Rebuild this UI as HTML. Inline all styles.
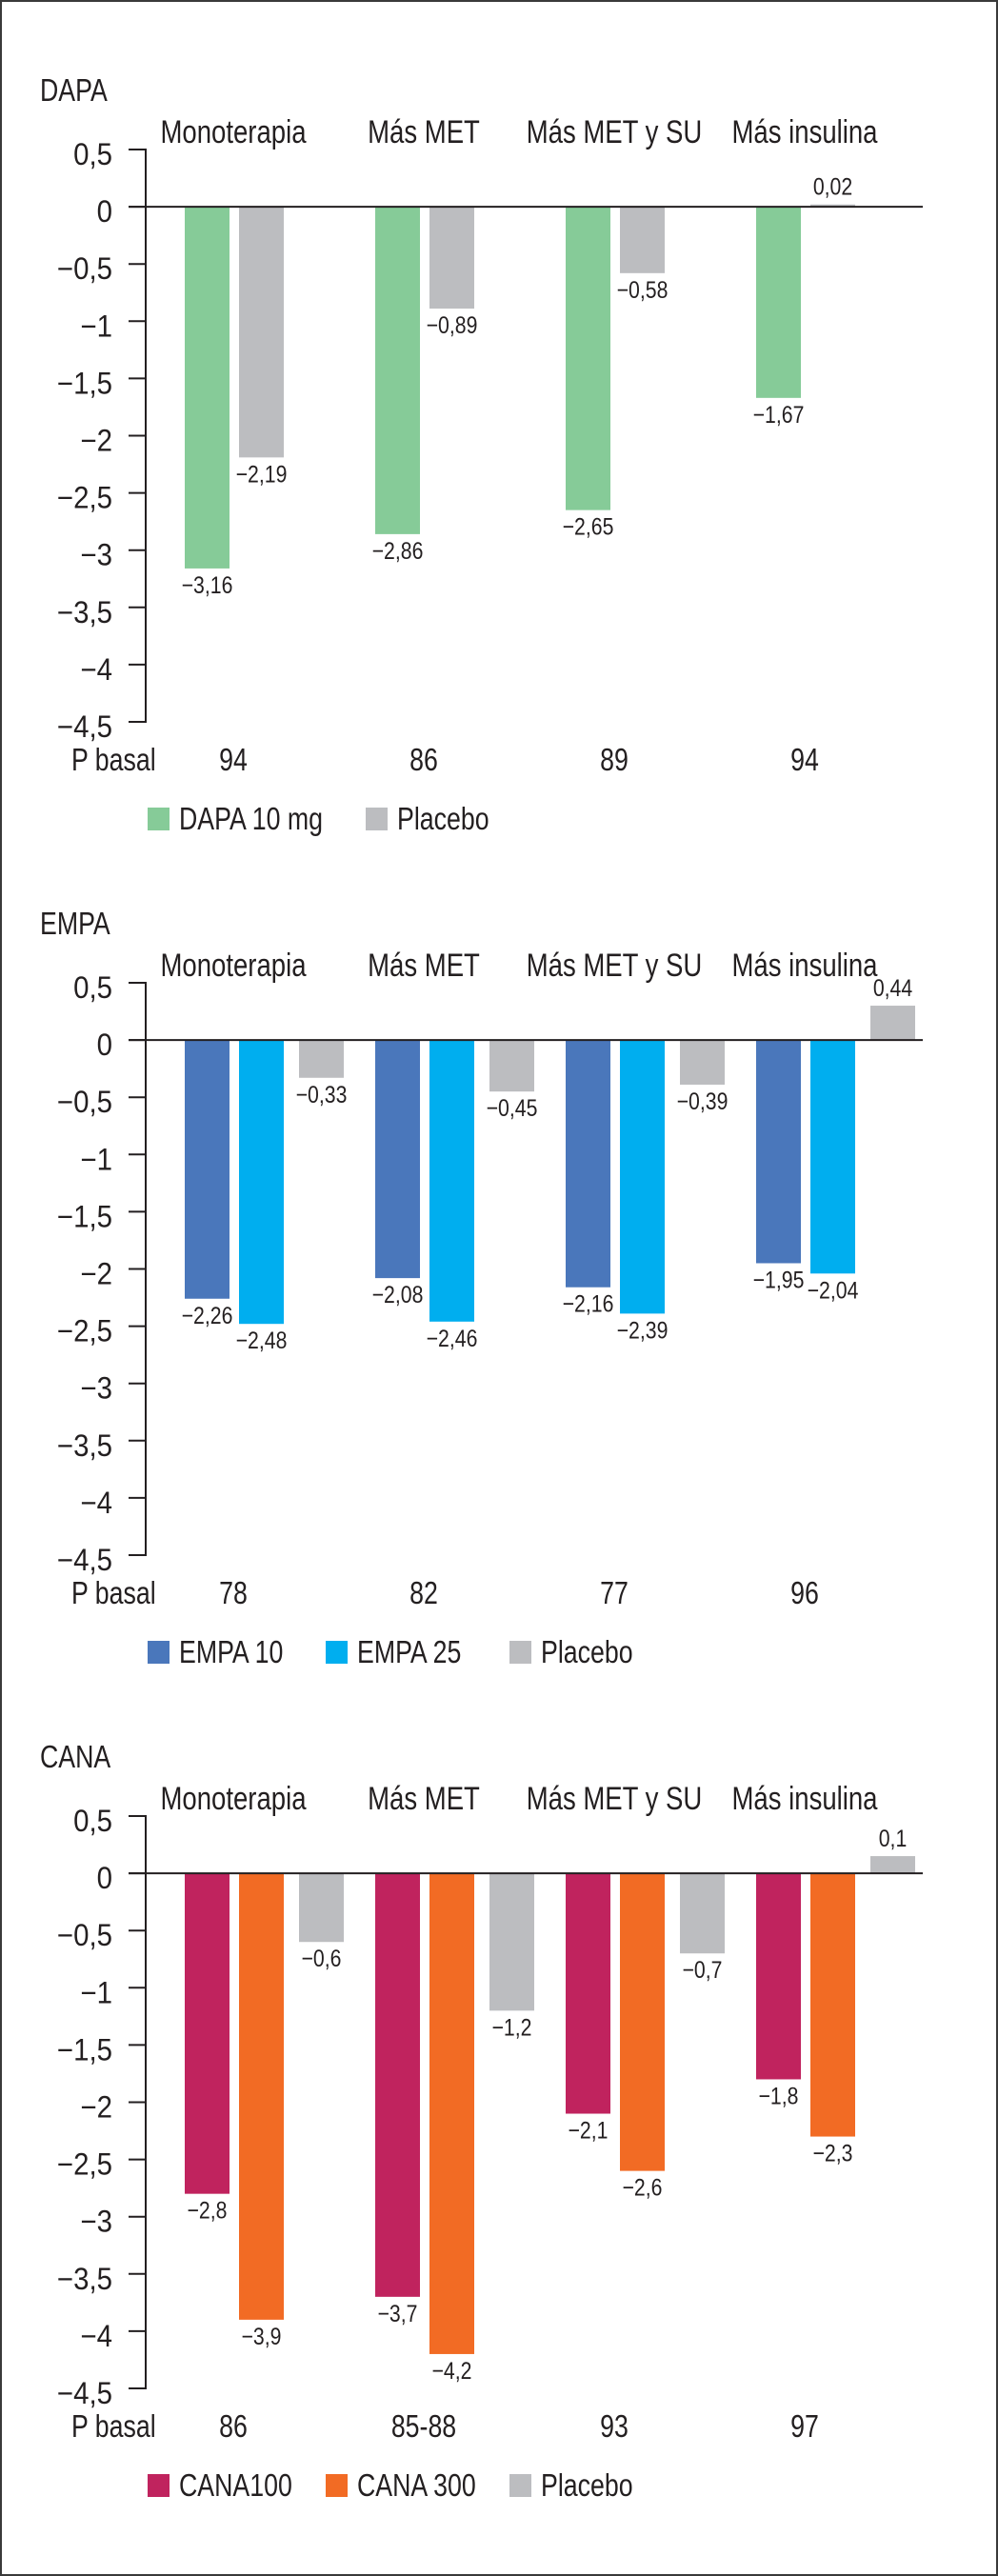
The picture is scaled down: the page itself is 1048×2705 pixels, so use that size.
<!DOCTYPE html>
<html><head><meta charset="utf-8">
<style>
html,body{margin:0;padding:0;background:#fff;}
body{width:1048px;height:2705px;position:relative;overflow:hidden;}
#frame{position:absolute;left:0;top:0;width:1044px;height:2701px;border:2px solid #3a3a3a;}
svg{position:absolute;left:0;top:0;}
text{font-family:"Liberation Sans",sans-serif;fill:#231f20;}
</style></head>
<body>
<div id="frame"></div>
<svg id="chart" width="1048" height="2705"></svg>
<script>
const categories = ["Monoterapia","Más MET","Más MET y SU","Más insulina"];
const yTicks = [0.5,0,-0.5,-1,-1.5,-2,-2.5,-3,-3.5,-4,-4.5];
const yTickLabels = ["0,5","0","−0,5","−1","−1,5","−2","−2,5","−3","−3,5","−4","−4,5"];

const dapaSeriesNames = ["DAPA 10 mg","Placebo"];
const dapa10 = [-3.16,-2.86,-2.65,-1.67];
const dapaPlacebo = [-2.19,-0.89,-0.58,0.02];
const dapaValueLabels = [["−3,16","−2,86","−2,65","−1,67"],["−2,19","−0,89","−0,58","0,02"]];
const dapaBasal = ["94","86","89","94"];

const empaSeriesNames = ["EMPA 10","EMPA 25","Placebo"];
const empa10 = [-2.26,-2.08,-2.16,-1.95];
const empa25 = [-2.48,-2.46,-2.39,-2.04];
const empaPlacebo = [-0.33,-0.45,-0.39,0.30];
const empaValueLabels = [["−2,26","−2,08","−2,16","−1,95"],["−2,48","−2,46","−2,39","−2,04"],["−0,33","−0,45","−0,39","0,44"]];
const empaBasal = ["78","82","77","96"];

const canaSeriesNames = ["CANA100","CANA 300","Placebo"];
const cana100 = [-2.8,-3.7,-2.1,-1.8];
const cana300 = [-3.9,-4.2,-2.6,-2.3];
const canaPlacebo = [-0.6,-1.2,-0.7,0.15];
const canaValueLabels = [["−2,8","−3,7","−2,1","−1,8"],["−3,9","−4,2","−2,6","−2,3"],["−0,6","−1,2","−0,7","0,1"]];
const canaBasal = ["86","85-88","93","97"];

const NS = "http://www.w3.org/2000/svg";
const svg = document.getElementById('chart');
function mk(tag, attrs, parent){
  const e = document.createElementNS(NS, tag);
  for (const k in attrs) e.setAttribute(k, attrs[k]);
  (parent||svg).appendChild(e);
  return e;
}
function txt(parent, s, x, y, size, anchor, sx){
  const t = mk('text', {transform:`translate(${x},${y}) scale(${sx||0.81},1)`, 'font-size':size, 'text-anchor':anchor||'start'}, parent);
  t.textContent = s;
  return t;
}

function panel(name, off, title, seriesNames, series, labels, colors, basal, legendX){
  const g = mk('g', {});
  
  
  const top = 157 + off, step = 60.1;
  const y = v => top + (0.5 - v) / 0.5 * step;
  const axisX = 153;
  const t = txt(g, title, 42, 106 + off, 33, 'start', 0.81);
  
  
  categories.forEach((c, i) => {
    const ct = txt(g, c, 245 + 200*i, 150 + off, 34, 'middle', 0.81);
    
    
  });
  const ax = mk('line', {x1:axisX, y1:y(0.5)-1, x2:axisX, y2:y(-4.5)+1, stroke:'#231f20','stroke-width':2}, g);
  
  
  yTicks.forEach((v, i) => {
    const tk = mk('line', {x1:135, y1:y(v), x2:axisX, y2:y(v), stroke:'#231f20','stroke-width':2}, g);
    
    
    const tl = txt(g, yTickLabels[i], 118, y(v) + 16, 32, 'end', 0.92);
    
    
  });
  const offs = [194, 251, 314];
  series.forEach((arr, s) => {
    arr.forEach((v, i) => {
      const x = offs[s] + 200*i;
      const y0 = y(0), y1 = y(v);
      const r = mk('rect', {x:x, y:Math.min(y0,y1), width:47, height:Math.abs(y1-y0), fill:colors[s]}, g);
      
      
      const ly = v >= 0 ? y1 - 10 : y1 + 26;
      const vl = txt(g, labels[s][i], x + 23.5, ly, 25, 'middle', 0.85);
      
      
    });
  });
  const zl = mk('line', {x1:135, y1:y(0), x2:969, y2:y(0), stroke:'#231f20','stroke-width':2}, g);
  
  
  const pb = txt(g, 'P basal', 75, 809 + off, 33, 'start', 0.81);
  
  
  basal.forEach((b, i) => {
    const bt = txt(g, b, 245 + 200*i, 809 + off, 33, 'middle', 0.81);
    
    
  });
  seriesNames.forEach((n, s) => {
    const lx = legendX[s];
    const sq = mk('rect', {x:lx, y:848 + off, width:23, height:24, fill:colors[s]}, g);
    
    
    const lt = txt(g, n, lx + 33, 871 + off, 33, 'start', 0.81);
    
    
  });
}

panel('dapa', 0, 'DAPA', dapaSeriesNames, [dapa10, dapaPlacebo], dapaValueLabels, ['#86cb98','#bcbdc0'], dapaBasal, [155, 384]);
panel('empa', 875, 'EMPA', empaSeriesNames, [empa10, empa25, empaPlacebo], empaValueLabels, ['#4a77bb','#00aeef','#bcbdc0'], empaBasal, [155, 342, 535]);
panel('cana', 1750, 'CANA', canaSeriesNames, [cana100, cana300, canaPlacebo], canaValueLabels, ['#c0235e','#f26b24','#bcbdc0'], canaBasal, [155, 342, 535]);
</script>
</body></html>
